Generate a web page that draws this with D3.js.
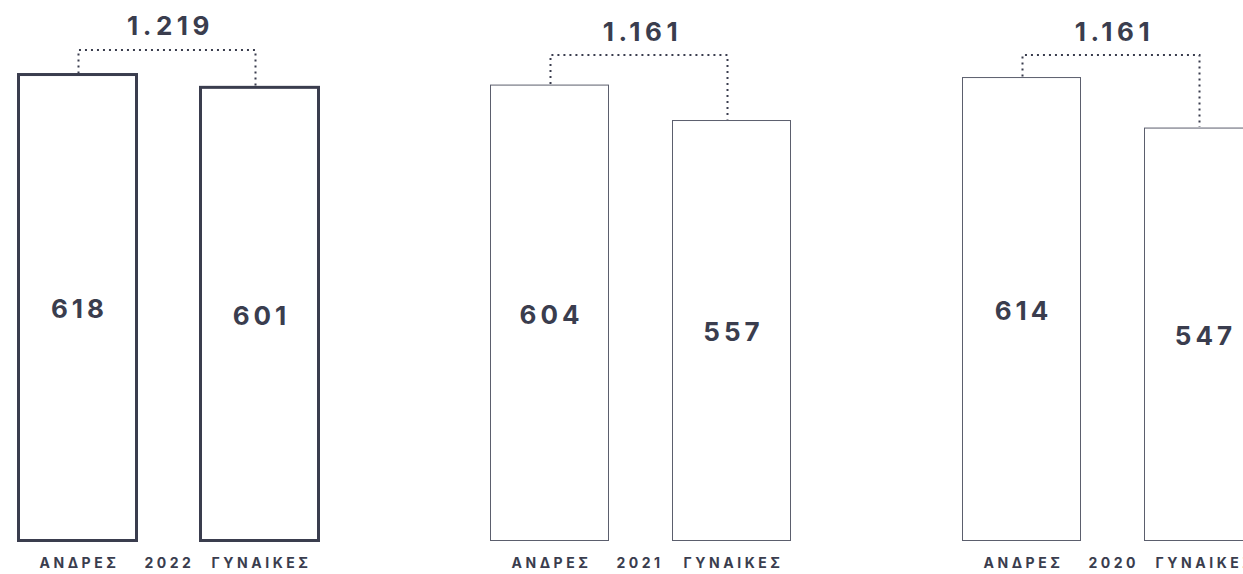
<!DOCTYPE html>
<html>
<head>
<meta charset="utf-8">
<script src="https://cdn.jsdelivr.net/npm/d3@7"></script>
<style>
  body { margin: 0; background: #fff; overflow: hidden; }
  svg { display: block; font-family: Inter, "Noto Sans", sans-serif; }
</style>
</head>
<body>
<div id="chart"></div>
<script>
// data
var years = ["2022", "2021", "2020"];
var sexes = ["ΑΝΔΡΕΣ", "ΓΥΝΑΙΚΕΣ"];
var men = [618, 604, 614];
var women = [601, 557, 547];

var width = 1243,
    height = 574,
    ink = "#3a3d4e";

var gr = d3.formatLocale({ decimal: ",", thousands: ".", grouping: [3], currency: ["", "€"] });
var fmtTotal = gr.format(",d");

var data = years.map(function(y, i) {
  return { year: y, active: i === 0, values: [men[i], women[i]], total: men[i] + women[i] };
});

var x0 = d3.scaleBand()
    .domain(years)
    .range([18.5, 18.5 + 472 * years.length]);

var x1 = d3.scaleBand()
    .domain(sexes)
    .range([0, 300])
    .paddingInner(64 / 182);

var y = d3.scaleLinear()
    .domain([0, 700])
    .range([540.5, 12.7]);

var svg = d3.select("#chart").append("svg")
    .attr("width", width)
    .attr("height", height);

var g = svg.selectAll(".year")
    .data(data)
  .enter().append("g")
    .attr("class", "year")
    .attr("transform", function(d) { return "translate(" + x0(d.year) + ",0)"; });

// bars
g.selectAll("rect")
    .data(function(d) { return d.values.map(function(v, i) { return { sex: sexes[i], value: v, active: d.active }; }); })
  .enter().append("rect")
    .attr("x", function(d) { return x1(d.sex); })
    .attr("y", function(d) { return y(d.value); })
    .attr("width", x1.bandwidth())
    .attr("height", function(d) { return y(0) - y(d.value); })
    .attr("fill", "none")
    .attr("stroke", function(d) { return d.active ? ink : "#5b5e6d"; })
    .attr("stroke-width", function(d) { return d.active ? 3 : 1; });

// values inside bars
g.selectAll(".val")
    .data(function(d) { return d.values.map(function(v, i) { return { sex: sexes[i], value: v }; }); })
  .enter().append("text")
    .attr("class", "val")
    .attr("x", function(d) { return x1(d.sex) + x1.bandwidth() / 2 + 2; })
    .attr("y", function(d) { return (y(d.value) + y(0)) / 2; })
    .attr("dy", "0.42em")
    .attr("text-anchor", "middle")
    .attr("fill", ink)
    .style("font-size", "26px")
    .style("font-weight", 700)
    .style("letter-spacing", "4px")
    .text(function(d) { return d.value; });

// dotted connector
g.append("path")
    .attr("fill", "none")
    .attr("stroke", ink)
    .attr("stroke-width", 2)
    .attr("stroke-dasharray", "2,4")
    .attr("d", function(d) {
      var top = d.active ? 50 : 55,
          xa = x1(sexes[0]) + x1.bandwidth() / 2 + 1,
          xb = x1(sexes[1]) + x1.bandwidth() / 2 - 4;
      return "M" + xa + "," + (y(d.values[0]) - 1) + "V" + top + "H" + xb + "V" + (y(d.values[1]) - 1);
    });

// totals
g.append("text")
    .attr("x", (x1(sexes[0]) + x1(sexes[1]) + x1.bandwidth()) / 2 + 2)
    .attr("y", function(d) { return d.active ? 34.5 : 41; })
    .attr("text-anchor", "middle")
    .attr("fill", ink)
    .style("font-size", "26px")
    .style("font-weight", 700)
    .style("letter-spacing", "4.5px")
    .text(function(d) { return fmtTotal(d.total); });

// bottom labels
g.selectAll(".sex")
    .data(sexes)
  .enter().append("text")
    .attr("class", "sex")
    .attr("x", function(s) { return x1(s) + x1.bandwidth() / 2 + 2; })
    .attr("y", 568)
    .attr("text-anchor", "middle")
    .attr("fill", ink)
    .style("font-size", "14px")
    .style("font-weight", 700)
    .style("letter-spacing", "3.5px")
    .text(function(s) { return s; });

g.append("text")
    .attr("x", x1(sexes[0]) + x1.bandwidth() + 8)
    .attr("y", 568)
    .attr("fill", ink)
    .style("font-size", "14px")
    .style("font-weight", 700)
    .style("letter-spacing", "3.5px")
    .text(function(d) { return d.year; });
</script>
</body>
</html>
